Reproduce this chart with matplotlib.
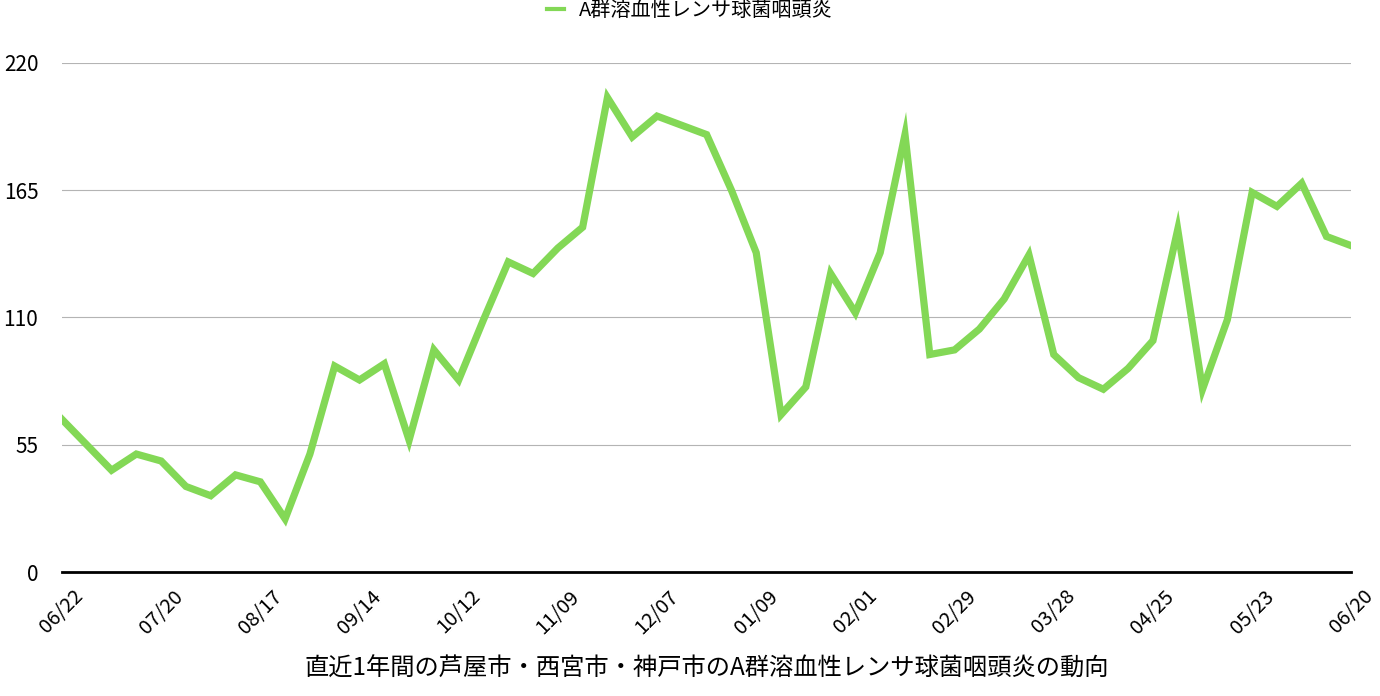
import matplotlib
matplotlib.use('Agg')
import matplotlib.pyplot as plt
from matplotlib.lines import Line2D

plt.rcParams['font.family'] = ['Noto Sans CJK JP', 'DejaVu Sans']

series_name = 'A群溶血性レンサ球菌咽頭炎'
values = [66, 55, 44, 51, 48, 37, 33, 42, 39, 23,
          51, 89, 83, 90, 57, 96, 83, 109, 134, 129,
          140, 149, 205, 188, 197, 193, 189, 165, 138, 68,
          80, 129, 112, 138, 189, 94, 96, 105, 118, 137,
          94, 84, 79, 88, 100, 148, 79, 109, 164, 158,
          168, 145, 141]
tick_labels = ['06/22', '07/20', '08/17', '09/14', '10/12', '11/09', '12/07',
               '01/09', '02/01', '02/29', '03/28', '04/25', '05/23', '06/20']
y_ticks = [0, 55, 110, 165, 220]
x_title = '直近1年間の芦屋市・西宮市・神戸市のA群溶血性レンサ球菌咽頭炎の動向'

green = '#83d856'

fig = plt.figure(figsize=(13.8, 6.96), dpi=100)
ax = fig.add_axes([0.0449, 0.178, 0.9343, 0.7317])

x = list(range(len(values)))
ax.plot(x, values, color=green, lw=5.2, solid_joinstyle='miter', zorder=3)

ax.set_xlim(0, len(values) - 1)
ax.set_ylim(0, 220)
ax.set_yticks(y_ticks)
ax.set_yticklabels([str(v) for v in y_ticks])
ax.set_xticks(list(range(0, len(values), 4)))
ax.set_xticklabels(tick_labels, rotation=45, ha='center', va='top')

ax.grid(axis='y', color='#b4b4b4', lw=0.8)
ax.set_axisbelow(True)
for s in ['top', 'right', 'left']:
    ax.spines[s].set_visible(False)
ax.spines['bottom'].set_color('black')
ax.spines['bottom'].set_linewidth(2)
ax.spines['bottom'].set_zorder(4)

ax.tick_params(axis='y', length=0, pad=17, labelsize=15)
ax.tick_params(axis='x', length=0, pad=10, labelsize=14.5)

ax.set_xlabel(x_title, fontsize=17.5, labelpad=13)

handle = Line2D([], [], color=green, lw=3)
fig.legend(handles=[handle], labels=[series_name], loc='center',
           bbox_to_anchor=(0.5, 0.985), frameon=False, fontsize=14.5,
           handlelength=0.85, handletextpad=0.75)

fig.savefig('out.png', dpi=100)
